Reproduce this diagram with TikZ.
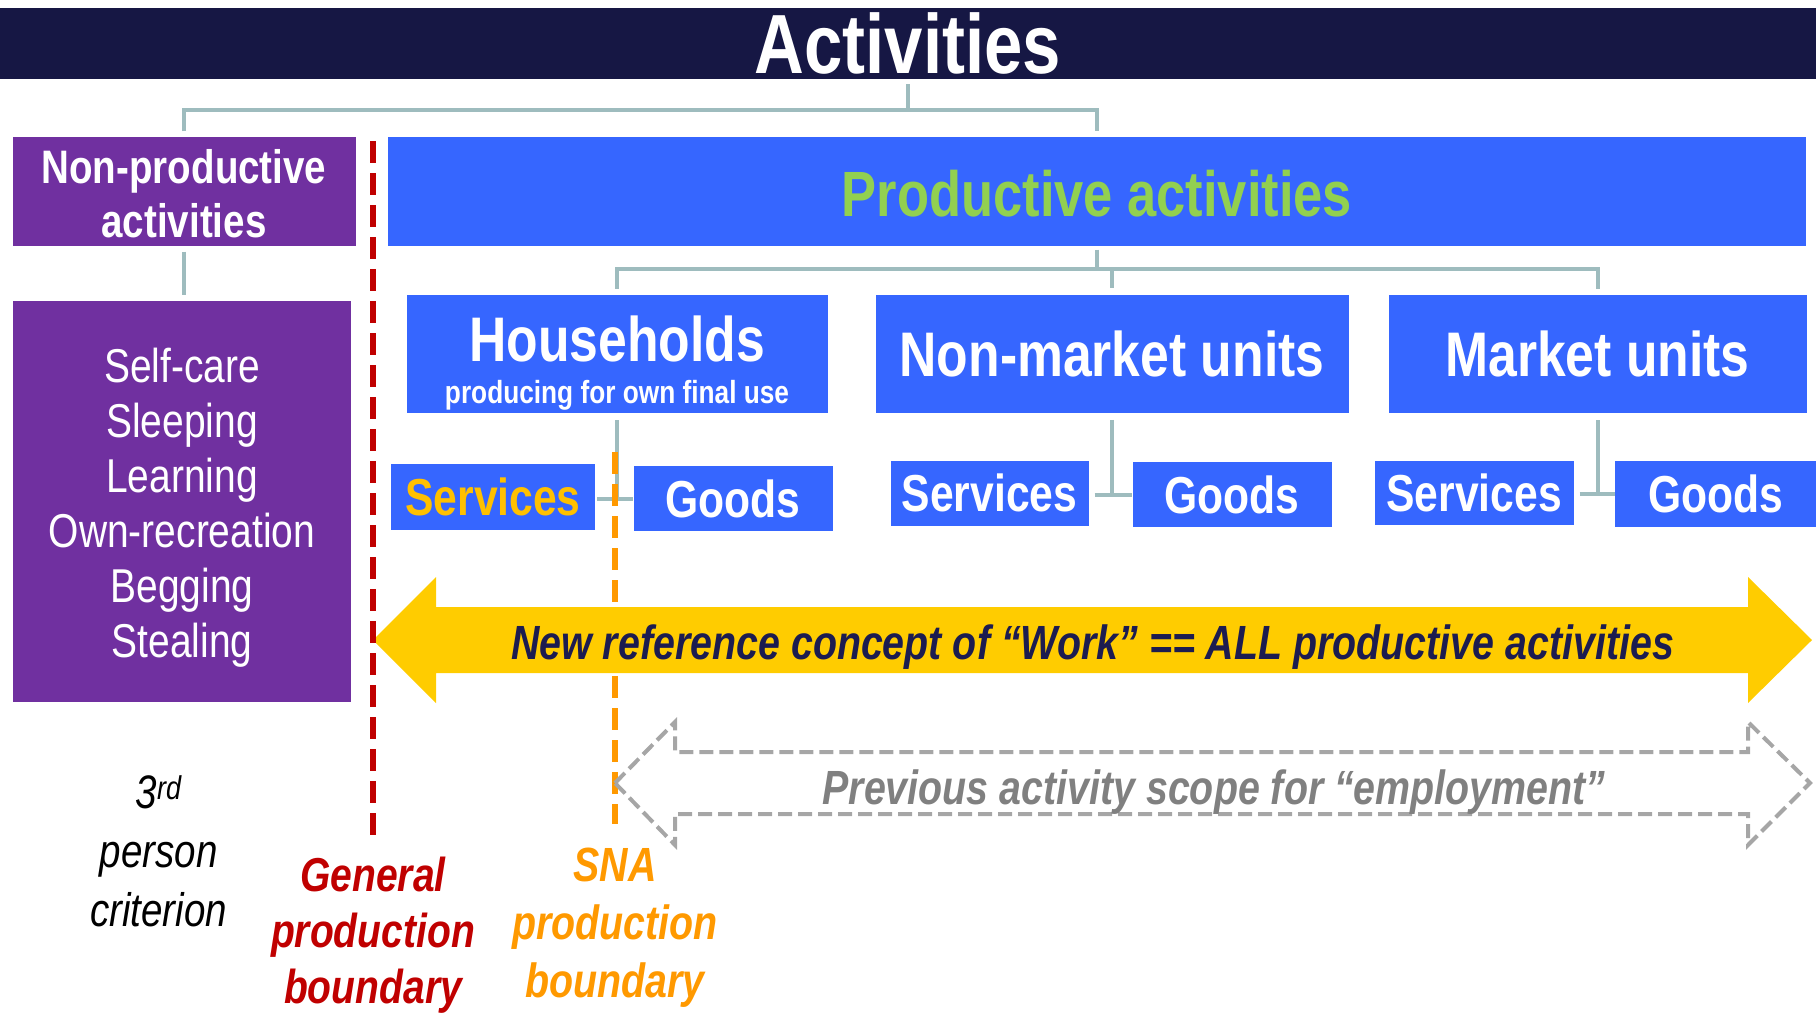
\documentclass[tikz,border=0pt]{standalone}
\usepackage{fontspec}
\setmainfont{Liberation Sans}[FakeStretch=0.82]
\definecolor{navybar}{RGB}{22,23,68}
\definecolor{purplefill}{RGB}{112,48,160}
\definecolor{bluefill}{RGB}{54,102,255}
\definecolor{greentext}{RGB}{146,208,80}
\definecolor{goldtext}{RGB}{255,192,0}
\definecolor{arrowyellow}{RGB}{255,204,0}
\definecolor{navytext}{RGB}{28,28,80}
\definecolor{genred}{RGB}{192,0,0}
\definecolor{snaorange}{RGB}{255,153,0}
\definecolor{linkgray}{RGB}{158,188,190}
\definecolor{scopegray}{RGB}{166,166,166}
\definecolor{scopetext}{RGB}{128,128,128}

\begin{document}
\begin{tikzpicture}[x=1pt,y=-1pt,
  link/.style={draw=linkgray,line width=4pt},
  purplebox/.style={fill=purplefill,inner sep=0pt},
  bluebox/.style={fill=bluefill,inner sep=0pt,text=white,align=center},
  unitbox/.style={bluebox,minimum height=118pt,font=\fontsize{63}{63}\bfseries\selectfont},
  kindbox/.style={bluebox,minimum width=200pt,minimum height=65pt,font=\fontsize{52}{52}\bfseries\selectfont},
  boundline/.style={line width=6pt,dash pattern=on 22pt off 10pt},
  boundtext/.style={align=center,font=\fontsize{48}{58}\bfseries\itshape\selectfont}]

\useasboundingbox (0,0) rectangle (1816,1013);

\node[fill=navybar,minimum width=1816pt,minimum height=71pt,inner sep=0pt,text=white,font=\fontsize{84}{84}\bfseries\selectfont] (title) at (908,43.5) {Activities};

\node[purplebox,minimum width=343pt,minimum height=109pt] (nonprod) at (184,191) {};
\node[text=white,align=center,font=\fontsize{47}{54}\bfseries\selectfont] (nonprodtext) at ([yshift=-2.5pt]nonprod.center) {Non-productive\\activities};
\node[bluebox,minimum width=1418pt,minimum height=109pt] (prod) at (1097,191) {};
\node[text=greentext,font=\fontsize{64}{64}\bfseries\selectfont] (prodtext) at ([yshift=-2.5pt]prod.center) {Productive activities};
\node[purplebox,minimum width=338pt,minimum height=401pt] (selfcare) at (182,501.5) {};
\node[text=white,align=center,font=\fontsize{47.5}{55}\selectfont] (selfcaretext) at ([yshift=-6pt]selfcare.center) {Self-care\\Sleeping\\Learning\\Own-recreation\\Begging\\Stealing};

\coordinate (tj) at (908,110);
\draw[link] ([yshift=-5pt]title.south) -- (tj);
\draw[link] ([yshift=5pt]nonprod.north) |- (tj) -| ([yshift=5pt]prod.north);
\draw[link] ([yshift=-6pt]nonprod.south) -- ([yshift=6pt]nonprod.south |- selfcare.north);

\node[unitbox,minimum width=421pt] (hh) at (617,354) {};
\node[text=white,font=\fontsize{63}{63}\bfseries\selectfont] (hhname) at (617,339) {Households};
\node[text=white,font=\fontsize{32}{32}\bfseries\selectfont] (hhsub) at (617,395.5) {producing for own final use};
\node[unitbox,minimum width=473pt] (nm) at (1112,353.6) {Non-market units};
\node[unitbox,minimum width=418pt] (mkt) at (1597.5,354) {Market units};

\coordinate (pj) at (1097,269);
\draw[link] ([yshift=-4pt]prod.south) -- (pj);
\draw[link] ([yshift=6pt]hh.north) |- (pj) -| ([yshift=6pt]mkt.north);
\draw[link] (pj -| nm.north) -- ([yshift=6pt]nm.north);

\node[kindbox,minimum width=204pt,minimum height=66pt,text=goldtext] (hhserv) at (493,497) {Services};
\node[kindbox,minimum width=199pt] (hhgoods) at (733,498.5) {Goods};
\node[kindbox,minimum width=198pt] (nmserv) at (989.5,493) {Services};
\node[kindbox,minimum width=199pt] (nmgoods) at (1232,494.5) {Goods};
\node[kindbox,minimum width=199pt,minimum height=64pt] (mktserv) at (1474,492.8) {Services};
\node[kindbox,minimum width=201pt,minimum height=66pt] (mktgoods) at (1715.7,494) {Goods};

\draw[link] ([yshift=-7pt]hh.south) -- (hh.south |- hhgoods.west);
\draw[link] ([xshift=2pt]hhserv.east |- hhgoods.west) -- (hhgoods.west);
\draw[link] ([yshift=-7pt]nm.south) -- (nm.south |- nmgoods.west);
\draw[link] ([xshift=6pt]nmserv.east |- nmgoods.west) -- (nmgoods.west);
\draw[link] ([yshift=-7pt]mkt.south) -- (mkt.south |- mktgoods.west);
\draw[link] ([xshift=6pt]mktserv.east |- mktgoods.west) -- (mktgoods.west);

\draw[boundline,draw=snaorange] (615,452) -- (615,824);

\fill[arrowyellow] (373,640) -- (436,577) -- (436,607) -- (1748,607) -- (1748,577) -- (1812,640) -- (1748,703) -- (1748,673) -- (436,673) -- (436,703) -- cycle;
\node[text=navytext,font=\fontsize{48}{48}\bfseries\itshape\selectfont] (work) at (1092.6,647) {New reference concept of “Work” == ALL productive activities};

\draw[draw=scopegray,line width=4pt,dash pattern=on 14pt off 6pt,line join=miter] (615,783) -- (675,722) -- (675,752) -- (1748,752) -- (1748,722) -- (1810,783) -- (1748,845) -- (1748,814) -- (675,814) -- (675,845) -- cycle;
\node[text=scopetext,font=\fontsize{48}{48}\bfseries\itshape\selectfont] (scope) at (1214,792) {Previous activity scope for “employment”};

\draw[boundline,draw=genred] (373,141) -- (373,836);

\node[align=center,font=\fontsize{47}{59}\itshape\selectfont] (third) at (158.6,851.5) {3\textsuperscript{rd}\\person\\criterion};
\node[boundtext,text=genred,font=\fontsize{47.6}{56}\bfseries\itshape\selectfont] (genlabel) at (373,935) {General\\production\\boundary};
\node[boundtext,text=snaorange] (snalabel) at (615,927.5) {SNA\\production\\boundary};

\end{tikzpicture}
\end{document}
